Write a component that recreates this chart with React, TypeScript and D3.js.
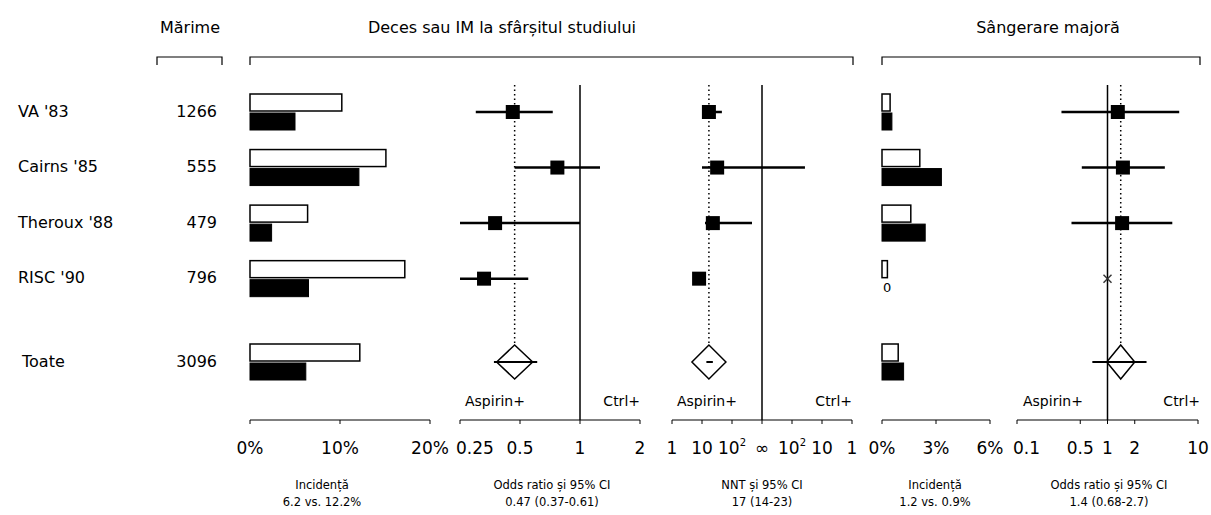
import React from 'react';
import * as d3 from 'd3';

// ---------- data ----------
const studies = ["VA '83", "Cairns '85", "Theroux '88", "RISC '90"];
const overallLabel = "Toate";
const sampleSizes = [1266, 555, 479, 796];
const totalSize = 3096;

// death or MI incidence (%)
const deathCtrl = [10.2, 15.1, 6.4, 17.2];
const deathAsp = [5.0, 12.1, 2.4, 6.5];
const deathOverallCtrl = 12.2;
const deathOverallAsp = 6.2;

// odds ratio death/MI
const deathOR = [0.46, 0.77, 0.375, 0.33];
const deathORLo = [0.3, 0.47, 0.25, 0.25];
const deathORHi = [0.73, 1.26, 1.0, 0.55];
const deathOROverall = [0.47, 0.37, 0.61];

// NNT (positive = benefit, negative = harm)
const nnt = [17, 32, 23, 8];
const nntLo = [10, 10, 12.6, 7];
const nntHi = [46, -37, 464, 9];
const nntOverall = [17, 14, 23];

// major bleeding incidence (%)
const bleedCtrl = [0.45, 2.1, 1.6, 0.3];
const bleedAsp = [0.55, 3.3, 2.4, 0];
const bleedOverallCtrl = 0.9;
const bleedOverallAsp = 1.2;

// odds ratio bleeding
const bleedOR = [1.3, 1.48, 1.45, 1];
const bleedORLo = [0.31, 0.52, 0.4, 1];
const bleedORHi = [6.2, 4.3, 5.2, 1];
const bleedEstimable = [true, true, true, false];
const bleedOROverall = [1.4, 0.68, 2.7];

// ticks
const deathIncTicks = [0, 10, 20];
const deathORTicks = [0.25, 0.5, 1, 2];
const nntTicks = [1, 10, 100, Infinity, -100, -10, -1];
const nntTickLabels = ['1', '10', '10^2', '∞', '10^2', '10', '1'];
const bleedIncTicks = [0, 3, 6];
const bleedORTicks = [0.1, 0.5, 1, 2, 10];

// text
const headers = ['Mărime', 'Deces sau IM la sfârșitul studiului', 'Sângerare majoră'];
const captions = [
  ['Incidență', '6.2 vs. 12.2%'],
  ['Odds ratio și 95% CI', '0.47 (0.37-0.61)'],
  ['NNT și 95% CI', '17 (14-23)'],
  ['Incidență', '1.2 vs. 0.9%'],
  ['Odds ratio și 95% CI', '1.4 (0.68-2.7)'],
];

// ---------- layout ----------
const W = 1211, H = 515;
const FONT = 'DejaVu Sans, Arial, sans-serif';
const axisY = 420;
const topY = 85;
const barH = 17;
const sq = 14;

const rowY = d3.scaleLinear().domain([0, 4.5]).range([112, 362]);
const xDeathInc = d3.scaleLinear().domain([0, 20]).range([250, 430]);
const xDeathOR = d3.scaleLog().domain([0.25, 2]).range([460, 640]);
const nntCenter = 762;
const nntDist = d3.scaleLog().domain([1, 1000]).range([90, 0]);
const xNNT = (v: number) => (!isFinite(v) ? nntCenter : v > 0 ? nntCenter - nntDist(v) : nntCenter + nntDist(-v));
const xBleedInc = d3.scaleLinear().domain([0, 6]).range([882, 990]);
const xBleedOR = d3.scaleLog().domain([0.1, 10]).range([1017, 1198]);

const rows = studies.map((_, i) => rowY(i));
const yOverall = rowY(4.5);

function Axis({ ticks, x, labels, firstStart }: { ticks: number[]; x: (v: number) => number; labels: string[]; firstStart?: boolean }) {
  const xs = ticks.map(x);
  return (
    <g>
      <line x1={d3.min(xs)} x2={d3.max(xs)} y1={axisY} y2={axisY} stroke="#000" strokeWidth={1} />
      {xs.map((px, i) => (
        <line key={'t' + i} x1={px} x2={px} y1={axisY} y2={axisY + 4} stroke="#000" strokeWidth={1} />
      ))}
      {xs.map((px, i) => {
        const lab = labels[i];
        const sup = lab.indexOf('^') >= 0;
        const start = firstStart && i === 0;
        return (
          <text key={'l' + i} x={start ? px - 4 : px} y={axisY + 34} textAnchor={start ? 'start' : 'middle'} fontSize={17} fontFamily={FONT}>
            {sup ? (
              <>
                {lab.split('^')[0]}
                <tspan fontSize={10} dy={-8}>{lab.split('^')[1]}</tspan>
              </>
            ) : lab}
          </text>
        );
      })}
    </g>
  );
}

function Bars({ ctrl, asp, oc, oa, x }: { ctrl: number[]; asp: number[]; oc: number; oa: number; x: (v: number) => number }) {
  const x0 = x(0);
  const all = [...rows.map((y, i) => ({ y, c: ctrl[i], a: asp[i] })), { y: yOverall, c: oc, a: oa }];
  return (
    <g>
      {all.map((d, i) => (
        <g key={i}>
          <rect x={x0} y={d.y - barH - 1} width={Math.max(x(d.c) - x0, 0)} height={barH} fill="#fff" stroke="#000" strokeWidth={1.5} />
          {d.a > 0 ? (
            <rect x={x0} y={d.y + 1} width={x(d.a) - x0} height={barH} fill="#000" stroke="#000" strokeWidth={1} />
          ) : (
            <text x={x0 + 1} y={d.y + 10} fontSize={13} fontFamily={FONT} dominantBaseline="middle">0</text>
          )}
        </g>
      ))}
    </g>
  );
}

function Diamond({ cx, cy, hw, hh }: { cx: number; cy: number; hw: number; hh: number }) {
  return <path d={`M${cx - hw},${cy}L${cx},${cy - hh}L${cx + hw},${cy}L${cx},${cy + hh}Z`} fill="#fff" stroke="#000" strokeWidth={1.5} />;
}

function Forest({ est, lo, hi, overall, x, ref, hw, estimable }: {
  est: number[]; lo: number[]; hi: number[]; overall: number[]; x: (v: number) => number; ref: number; hw: number; estimable?: boolean[];
}) {
  const hh = 17;
  return (
    <g>
      <line x1={x(ref)} x2={x(ref)} y1={topY} y2={axisY} stroke="#000" strokeWidth={1.5} />
      <line x1={x(overall[0])} x2={x(overall[0])} y1={topY} y2={yOverall - hh} stroke="#000" strokeWidth={1.5} strokeDasharray="1.5,3" />
      {rows.map((y, i) =>
        estimable && !estimable[i] ? (
          <g key={i} stroke="#333" strokeWidth={1.5}>
            <line x1={x(est[i]) - 4} x2={x(est[i]) + 4} y1={y - 4} y2={y + 4} />
            <line x1={x(est[i]) - 4} x2={x(est[i]) + 4} y1={y + 4} y2={y - 4} />
          </g>
        ) : (
          <g key={i}>
            <line x1={x(lo[i])} x2={x(hi[i])} y1={y} y2={y} stroke="#000" strokeWidth={2.5} />
            <rect x={x(est[i]) - sq / 2} y={y - sq / 2} width={sq} height={sq} fill="#000" />
          </g>
        )
      )}
      <Diamond cx={x(overall[0])} cy={yOverall} hw={hw} hh={hh} />
      <line x1={x(overall[1])} x2={x(overall[2])} y1={yOverall} y2={yOverall} stroke="#000" strokeWidth={2} />
    </g>
  );
}

function Sides({ left, right }: { left: number; right: number }) {
  return (
    <g fontSize={14} fontFamily={FONT}>
      <text x={left} y={axisY - 14}>Aspirin+</text>
      <text x={right} y={axisY - 14} textAnchor="end">Ctrl+</text>
    </g>
  );
}

function Bracket({ x1, x2 }: { x1: number; x2: number }) {
  return <path d={`M${x1},65V57H${x2}V65`} fill="none" stroke="#000" strokeWidth={1.2} />;
}

export default function App() {
  const captionX = [322, 552, 762, 935, 1109];
  return (
    <svg width={W} height={H} style={{ position: 'absolute', left: 0, top: 0, background: '#fff' }}>
      {/* headers */}
      <g fontFamily={FONT} fontSize={16}>
        <text x={190} y={33} textAnchor="middle">{headers[0]}</text>
        <text x={502} y={33} textAnchor="middle">{headers[1]}</text>
        <text x={1048} y={33} textAnchor="middle">{headers[2]}</text>
      </g>
      <Bracket x1={157} x2={222} />
      <Bracket x1={250} x2={853} />
      <Bracket x1={882} x2={1200} />

      {/* row labels */}
      <g fontFamily={FONT} fontSize={16}>
        {studies.map((s, i) => (
          <text key={s} x={18} y={rows[i]} dominantBaseline="middle">{s}</text>
        ))}
        <text x={22} y={yOverall} dominantBaseline="middle">{overallLabel}</text>
        {sampleSizes.map((n, i) => (
          <text key={i} x={217} y={rows[i]} textAnchor="end" dominantBaseline="middle">{n}</text>
        ))}
        <text x={217} y={yOverall} textAnchor="end" dominantBaseline="middle">{totalSize}</text>
      </g>

      <Bars ctrl={deathCtrl} asp={deathAsp} oc={deathOverallCtrl} oa={deathOverallAsp} x={xDeathInc} />
      <Axis ticks={deathIncTicks} x={xDeathInc} labels={deathIncTicks.map((t) => t + '%')} />

      <Forest est={deathOR} lo={deathORLo} hi={deathORHi} overall={deathOROverall} x={xDeathOR} ref={1} hw={18} />
      <Axis ticks={deathORTicks} x={xDeathOR} labels={deathORTicks.map(String)} firstStart />
      <Sides left={465} right={640} />

      <Forest est={nnt} lo={nntLo} hi={nntHi} overall={nntOverall} x={xNNT} ref={Infinity} hw={17} />
      <Axis ticks={nntTicks} x={xNNT} labels={nntTickLabels} />
      <Sides left={677} right={852} />

      <Bars ctrl={bleedCtrl} asp={bleedAsp} oc={bleedOverallCtrl} oa={bleedOverallAsp} x={xBleedInc} />
      <Axis ticks={bleedIncTicks} x={xBleedInc} labels={bleedIncTicks.map((t) => t + '%')} />

      <Forest est={bleedOR} lo={bleedORLo} hi={bleedORHi} overall={bleedOROverall} x={xBleedOR} ref={1} hw={14} estimable={bleedEstimable} />
      <Axis ticks={bleedORTicks} x={xBleedOR} labels={bleedORTicks.map(String)} firstStart />
      <Sides left={1023} right={1200} />

      {/* captions */}
      <g fontFamily={FONT} fontSize={11.5} textAnchor="middle">
        {captions.map((c, i) => (
          <g key={i}>
            <text x={captionX[i]} y={489}>{c[0]}</text>
            <text x={captionX[i]} y={506}>{c[1]}</text>
          </g>
        ))}
      </g>
    </svg>
  );
}
